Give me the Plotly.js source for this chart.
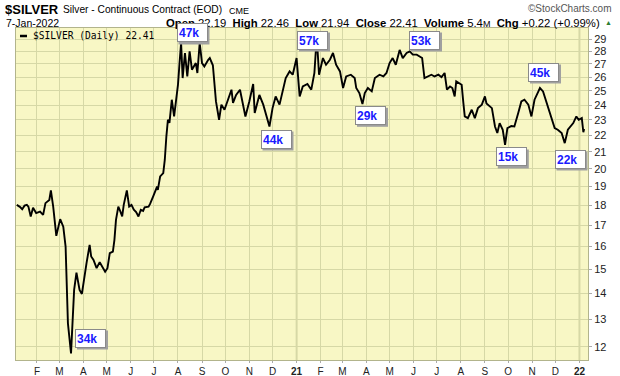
<!DOCTYPE html>
<html>
<head>
<meta charset="utf-8">
<script src="https://cdn.plot.ly/plotly-3.0.1.min.js"></script>
<style>html,body{margin:0;padding:0;background:#fff;}#chart{width:620px;height:376px;}</style>
</head>
<body>
<div id="chart"></div>
<script>
// ---- data ----
const dates = [
'2020-01-06','2020-01-08','2020-01-10','2020-01-13','2020-01-16','2020-01-19','2020-01-21','2020-01-24','2020-01-27','2020-01-31',
'2020-02-05','2020-02-09','2020-02-12','2020-02-17','2020-02-19','2020-02-22','2020-02-26','2020-03-02','2020-03-06','2020-03-09',
'2020-03-11','2020-03-12','2020-03-16','2020-03-18','2020-03-20','2020-03-23','2020-03-27','2020-03-30','2020-04-02','2020-04-05',
'2020-04-09','2020-04-11','2020-04-14','2020-04-18','2020-04-22','2020-04-29','2020-05-02','2020-05-05','2020-05-09','2020-05-11',
'2020-05-13','2020-05-16','2020-05-19','2020-05-21','2020-05-23','2020-05-27','2020-05-30','2020-06-02','2020-06-05','2020-06-08',
'2020-06-11','2020-06-14','2020-06-17','2020-06-19','2020-06-24','2020-06-26','2020-06-30','2020-07-05','2020-07-06','2020-07-09',
'2020-07-13','2020-07-15','2020-07-17','2020-07-19','2020-07-21','2020-07-24','2020-07-27','2020-07-30','2020-08-01','2020-08-03',
'2020-08-05','2020-08-07','2020-08-10','2020-08-13','2020-08-16','2020-08-19','2020-08-24','2020-08-26','2020-08-29','2020-09-01',
'2020-09-04','2020-09-09','2020-09-11','2020-09-15','2020-09-19','2020-09-23','2020-09-26','2020-09-30','2020-10-05','2020-10-09',
'2020-10-11','2020-10-15','2020-10-20','2020-10-24','2020-10-27','2020-11-01','2020-11-06','2020-11-08','2020-11-14','2020-11-19',
'2020-11-23','2020-11-27','2020-12-01','2020-12-05','2020-12-10','2020-12-15','2020-12-18','2020-12-23','2020-12-27','2021-01-01',
'2021-01-05','2021-01-09','2021-01-15','2021-01-20','2021-01-24','2021-01-27','2021-01-30','2021-02-04','2021-02-08','2021-02-13',
'2021-02-17','2021-02-21','2021-02-26','2021-03-02','2021-03-06','2021-03-12','2021-03-17','2021-03-19','2021-03-23','2021-03-27',
'2021-03-30','2021-04-03','2021-04-08','2021-04-12','2021-04-18','2021-04-23','2021-04-27','2021-05-01','2021-05-05','2021-05-09',
'2021-05-14','2021-05-18','2021-05-23','2021-05-27','2021-05-31','2021-06-05','2021-06-09','2021-06-12','2021-06-15','2021-06-20',
'2021-06-24','2021-06-28','2021-07-03','2021-07-07','2021-07-11','2021-07-14','2021-07-18','2021-07-21','2021-07-24','2021-07-26',
'2021-08-02','2021-08-04','2021-08-06','2021-08-10','2021-08-15','2021-08-19','2021-08-23','2021-08-28','2021-09-01','2021-09-03',
'2021-09-10','2021-09-14','2021-09-17','2021-09-20','2021-09-24','2021-09-27','2021-09-30','2021-10-05','2021-10-09','2021-10-14',
'2021-10-18','2021-10-22','2021-10-27','2021-10-31','2021-11-04','2021-11-09','2021-11-11','2021-11-15','2021-11-19','2021-11-24',
'2021-11-30','2021-12-04','2021-12-09','2021-12-13','2021-12-17','2021-12-24','2021-12-28','2021-12-31','2022-01-04','2022-01-06',
'2022-01-07'
];
const prices = [
18.03,17.99,17.93,17.81,17.99,18.03,17.94,17.44,17.88,17.61,
17.69,17.52,18.12,18.29,18.79,17.94,16.50,17.31,16.94,16.00,
14.13,12.84,11.78,13.09,14.13,14.85,14.13,13.97,14.68,15.26,
16.08,15.55,15.40,15.04,15.30,14.89,15.04,15.70,15.77,16.31,
17.27,17.94,17.66,17.44,18.03,18.79,17.94,18.03,17.78,17.66,
17.44,17.78,17.72,17.90,17.94,18.08,18.47,19.00,18.82,19.56,
19.75,20.52,21.93,23.01,22.80,24.37,23.23,24.37,25.44,27.07,
28.67,25.93,27.86,26.05,27.99,26.56,27.07,26.31,28.67,27.07,
26.81,27.33,27.46,26.90,24.25,23.01,24.03,23.68,24.37,25.08,
24.15,24.71,25.08,24.03,23.23,24.25,25.49,23.46,24.71,24.03,
23.34,22.57,23.79,24.60,24.03,25.31,25.93,26.43,26.18,27.46,
24.60,25.31,25.50,25.08,26.31,29.19,26.18,27.46,26.94,27.33,
27.86,26.94,26.43,25.20,26.05,26.18,25.93,25.20,24.84,24.07,
24.84,25.20,24.96,25.93,26.18,26.05,26.31,27.07,27.46,26.94,
28.11,27.46,27.86,27.99,27.73,27.73,27.60,27.46,25.93,26.05,
26.18,26.05,26.18,26.00,26.31,25.08,25.31,25.20,24.60,25.68,
25.44,24.25,23.23,23.12,23.68,23.12,23.79,24.03,24.60,24.11,
23.79,22.57,22.15,22.79,22.36,21.42,22.47,22.60,22.57,23.46,
24.25,24.37,24.03,23.23,24.37,24.96,25.20,24.96,24.25,23.34,
22.47,22.36,22.15,21.52,22.36,22.79,23.23,23.01,23.12,22.20,
22.41
];
const monthTicks = ['2020-02-01','2020-03-01','2020-04-01','2020-05-01','2020-06-01','2020-07-01','2020-08-01','2020-09-01','2020-10-01','2020-11-01','2020-12-01','2021-01-01',
'2021-02-01','2021-03-01','2021-04-01','2021-05-01','2021-06-01','2021-07-01','2021-08-01','2021-09-01','2021-10-01','2021-11-01','2021-12-01','2022-01-01'];
const monthLabels = ['F','M','A','M','J','J','A','S','O','N','D','<b>21</b>','F','M','A','M','J','J','A','S','O','N','D','<b>22</b>'];
const yearTicks = ['2021-01-01','2022-01-01'];
const priceTicks = [12,13,14,15,16,17,18,19,20,21,22,23,24,25,26,27,28,29];
const volLabels = ['34k','47k','44k','57k','29k','53k','15k','45k','22k'];
const seriesName = '$SILVER (Daily) 22.41';
const headerTitle = '$SILVER';
const headerSub = 'Silver - Continuous Contract (EOD)';
const headerExch = 'CME';
const headerDate = '7-Jan-2022';
const quoteText = '<b>Open</b> 22.19  <b>High</b> 22.46  <b>Low</b> 21.94  <b>Close</b> 22.41  <b>Volume</b> 5.4<span style="font-size:9px">M</span>  <b>Chg</b> +0.22 (+0.99%)';

// ---- layout geometry ----
const W = 620, H = 376;
const M = {l:16, r:32, t:28, b:16};
const pw = W - M.l - M.r, ph = H - M.t - M.b;
const px = x => (x - M.l) / pw;
const py = y => (H - M.b - y) / ph;
// box centres (pixels) for the volume labels, same order as volLabels
const volPos = [[90.5,338],[192,33],[276,139],[312.5,40],[370.5,115.3],[424.5,40],[511.3,157],[543.5,72],[570,159]];
const boxW = 31, boxH = 19;

const FONT = 'Arial, "Liberation Sans", sans-serif';
const annotations = [];
annotations.push({xref:'paper',yref:'paper',x:px(3),y:py(9.5),xanchor:'left',yanchor:'middle',showarrow:false,
  text:'<b>'+headerTitle+'</b>',font:{family:FONT,size:13,color:'#000'}});
annotations.push({xref:'paper',yref:'paper',x:px(61),y:py(10),xanchor:'left',yanchor:'middle',showarrow:false,
  text:headerSub,font:{family:FONT,size:10.2,color:'#000'}});
annotations.push({xref:'paper',yref:'paper',x:px(227),y:py(10.5),xanchor:'left',yanchor:'middle',showarrow:false,
  text:headerExch,font:{family:FONT,size:9,color:'#000'}});
annotations.push({xref:'paper',yref:'paper',x:px(614),y:py(8.5),xanchor:'right',yanchor:'middle',showarrow:false,
  text:'©StockCharts.com',font:{family:FONT,size:10,color:'#555'}});
annotations.push({xref:'paper',yref:'paper',x:px(4),y:py(22.5),xanchor:'left',yanchor:'middle',showarrow:false,
  text:headerDate,font:{family:FONT,size:10.5,color:'#000'}});
annotations.push({xref:'paper',yref:'paper',x:px(602),y:py(22.5),xanchor:'right',yanchor:'middle',showarrow:false,
  text:quoteText,font:{family:FONT,size:11.3,color:'#000'}});
annotations.push({xref:'paper',yref:'paper',x:px(608),y:py(22),xanchor:'center',yanchor:'middle',showarrow:false,
  text:'▲',font:{family:FONT,size:7,color:'#2e7d32'}});
annotations.push({xref:'paper',yref:'paper',x:px(31),y:py(36),xanchor:'left',yanchor:'middle',showarrow:false,
  text:seriesName,font:{family:'"DejaVu Sans Mono", monospace',size:9.6,color:'#000'}});
volLabels.forEach((t,i)=>{
  const [cx,cy] = volPos[i];
  annotations.push({xref:'paper',yref:'paper',x:px(cx),y:py(cy),xanchor:'center',yanchor:'middle',showarrow:false,
    text:'<b>'+t+'</b>',font:{family:FONT,size:12,color:'#1a1aff'},bgcolor:'#ffffff',width:boxW-4,height:boxH-4,borderpad:1,
    bordercolor:'#8a8a8a',borderwidth:1,align:'left'});
});

const shapes = yearTicks.map(d => ({type:'line',xref:'x',yref:'paper',x0:d,x1:d,y0:0,y1:1,layer:'below',
  line:{color:'#b9bc88',width:1.5}}));
shapes.push({type:'line',xref:'paper',yref:'paper',x0:px(20),x1:px(27),y0:py(36),y1:py(36),line:{color:'#000',width:2.5}});
volPos.forEach(([cx,cy])=>{
  shapes.push({type:'rect',xref:'paper',yref:'paper',layer:'above',
    x0:px(cx-boxW/2+2),x1:px(cx+boxW/2+2),y0:py(cy+boxH/2+2),y1:py(cy-boxH/2+2),
    fillcolor:'#a0a0a0',line:{width:0}});
});

const trace = {x:dates,y:prices,type:'scatter',mode:'lines',name:seriesName,showlegend:false,
  line:{color:'#000',width:1.9},hoverinfo:'skip'};

const layout = {
  width:W,height:H,margin:M,paper_bgcolor:'#ffffff',plot_bgcolor:'#f8f7c5',showlegend:false,
  font:{family:FONT,size:11,color:'#222'},
  xaxis:{type:'date',range:['2020-01-05','2022-01-12'],tickmode:'array',tickvals:monthTicks,ticktext:monthLabels,
    showgrid:true,gridcolor:'#d6d8a6',gridwidth:1,ticks:'outside',ticklen:2,tickcolor:'#aaa',
    showline:true,linecolor:'#b2b48c',mirror:true,zeroline:false,tickfont:{family:FONT,size:10,color:'#222'},fixedrange:true},
  yaxis:{type:'log',range:[Math.log10(11.56),Math.log10(29.93)],side:'right',tickmode:'array',tickvals:priceTicks,
    ticktext:priceTicks.map(String),showgrid:true,gridcolor:'#d6d8a6',gridwidth:1,ticks:'outside',ticklen:3,tickcolor:'#aaa',
    showline:true,linecolor:'#b2b48c',mirror:true,zeroline:false,tickfont:{family:FONT,size:11,color:'#222'},fixedrange:true},
  annotations:annotations,shapes:shapes
};
Plotly.newPlot('chart',[trace],layout,{displayModeBar:false,staticPlot:true});
</script>
</body>
</html>
